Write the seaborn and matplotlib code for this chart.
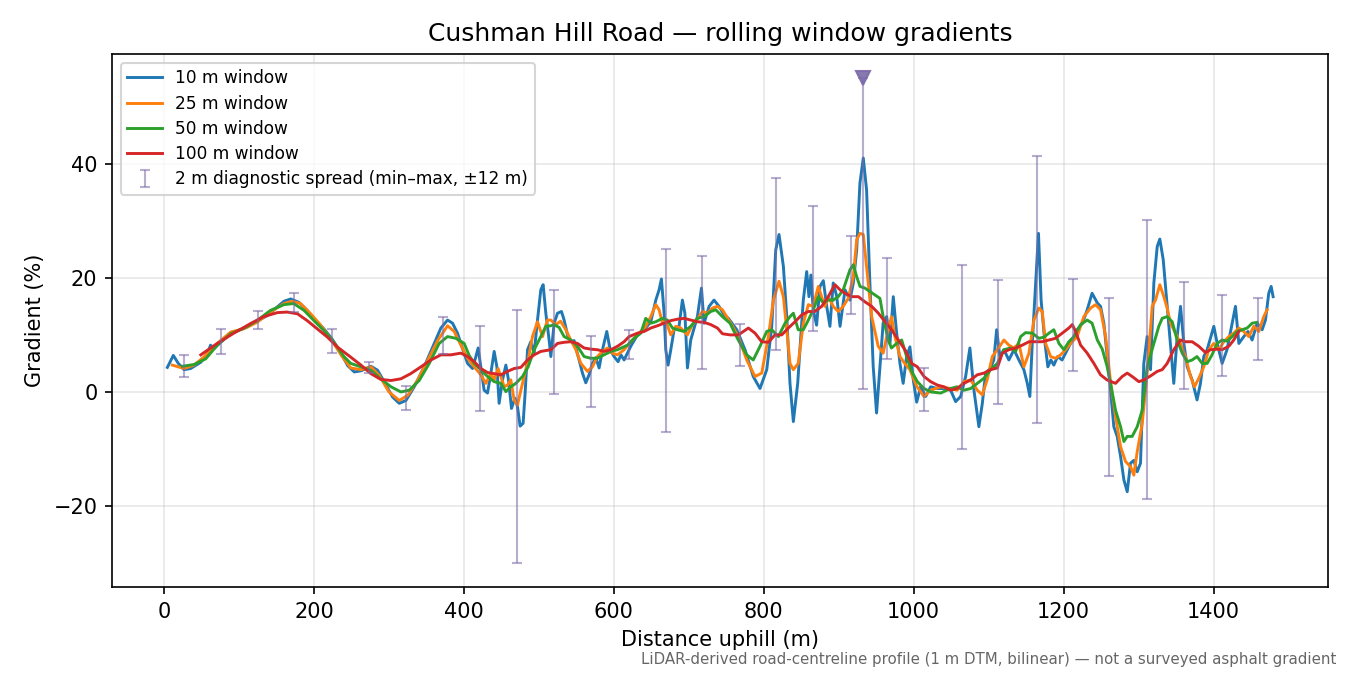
import matplotlib
matplotlib.use("Agg")
import matplotlib.pyplot as plt
import seaborn as sns
import numpy as np
import pandas as pd

# ---------------- data ----------------
w10_x = [4.4, 12.4, 19, 26.7, 35.5, 49, 58, 62, 66.7, 75.5, 86.7, 97.8, 111, 124, 138, 151, 160, 169, 180, 191, 200, 213, 224, 236, 245,
         253.8, 262.7, 276, 284.9, 293.8, 304.9, 313.8, 322.7, 333.8, 347, 360.4, 369.3, 378.2, 384.9, 391.5, 398.2, 404.9, 411.5, 416,
         419, 422.6, 427, 431.5, 436, 440.4, 444, 447, 451.5, 456, 459.5, 463.5, 468, 471.5, 475, 479, 481.7, 484.9, 489.3, 493.7, 498.2,
         502.6, 505.7, 509.3, 513.7, 516, 520.4, 524.9, 530.2, 533.7, 538.2, 542.6, 547, 553.7, 558.2, 562.6, 567, 571.5, 576, 580.4,
         584.9, 590.6, 595.1, 600.4, 605.7, 609.5, 613.7, 622.6, 631.5, 640.4, 649.3, 656, 660.4, 663.5, 667.1, 669.3, 672.4, 676,
         680.4, 687, 691.5, 694.8, 698.2, 702.6, 707.1, 711.5, 716.9, 720.4, 727.1, 733.7, 740.4, 747.1, 752.9, 764, 775, 786, 795,
         804, 810.7, 816, 820.4, 826.2, 830.7, 835, 839.5, 845.3, 849.7, 852.8, 857.3, 860.3, 862.9, 866, 870.5, 875, 879.5, 884,
         888.3, 892.7, 897.3, 901.8, 908.4, 915, 919.5, 924, 928.3, 932.8, 937.2, 941.6, 946, 950.5, 955, 959.3, 964, 968.4, 972.8,
         977.3, 981.7, 986, 990.6, 995, 999.5, 1004, 1009.3, 1016, 1022.7, 1031.6, 1040.4, 1049.3, 1056, 1062.7, 1069.3, 1075,
         1080.4, 1087, 1091.6, 1096, 1102.7, 1106.9, 1110.7, 1115, 1120.4, 1127, 1133.8, 1140.4, 1147, 1151.6, 1155, 1158.2, 1162.7,
         1166.5, 1170, 1174.7, 1179, 1183, 1187, 1192, 1198, 1205, 1211.6, 1218, 1225, 1231.5, 1238, 1245, 1249.3, 1253.7, 1258.2,
         1262.6, 1267, 1271.5, 1276, 1280.4, 1284.9, 1289.3, 1293.7, 1298.2, 1302.6, 1307, 1311.5, 1316, 1320.4, 1324.9, 1328.4,
         1332.9, 1338.2, 1342.6, 1347, 1351.5, 1356, 1360.4, 1364.9, 1371.5, 1378, 1382.6, 1387, 1391.5, 1396, 1400.4, 1404.9,
         1411.5, 1418, 1424.9, 1429.3, 1433.8, 1440.4, 1446, 1451.5, 1458.2, 1464.9, 1469.3, 1473.7, 1476.9, 1479.5]
w10_y = [4.3, 6.4, 5.0, 3.9, 4.1, 5.2, 6.7, 8.2, 7.6, 8.7, 10.1, 10.7, 11.4, 12.4, 13.4, 14.9, 15.9, 16.3, 15.7, 14.3, 12.8, 11.1, 9.3, 6.8, 4.6,
         3.5, 3.7, 4.5, 3.8, 1.75, -0.9, -2.0, -1.5, 0.9, 4.4, 8.5, 11.2, 12.6, 12.05, 10.3, 7.6, 5.0, 4.1, 6.2,
         7.7, 4.4, 0.3, -0.2, 3.3, 7.1, 4.4, -2.0, 2.1, 4.7, 2.1, -2.9, -1.1, -2.6, -6.0, -5.5, -0.2, 7.4, 8.8, 6.8, 12.6,
         17.9, 18.8, 13.8, 9.1, 6.2, 12.05, 13.8, 14.1, 12.6, 10.0, 8.8, 9.0, 5.6, 3.3, 1.6, 3.0, 5.0, 6.0, 4.2,
         7.4, 10.6, 7.4, 6.2, 5.3, 6.5, 5.6, 8.0, 10.0, 10.9, 12.3, 16.1, 17.9, 19.8, 13.8, 7.4, 4.7, 7.4,
         10.9, 11.5, 16.1, 13.8, 4.2, 9.1, 11.2, 13.2, 18.2, 12.05, 15.0, 16.1, 15.0, 13.5, 12.9, 10.9, 7.4, 2.7, 0.6,
         3.9, 11.5, 24.9, 27.6, 22.0, 13.2, 1.5, -5.2, 1.5, 10.3, 16.1, 21.1, 16.7, 20.5, 14.4, 11.7, 18.5, 19.5, 15.0,
         11.5, 19.1, 16.8, 11.5, 17.9, 16.1, 19.1, 24.9, 36.6, 41.0, 35.4, 19.1, 4.5, -3.7, 4.5, 12.1, 13.2, 8.5, 16.7,
         10.3, 5.0, 1.5, 6.2, 7.9, 2.1, -1.8, 0.9, -0.8, 0.9, 0.6, 0.6, 0.3, -1.7, -0.8, 2.7, 7.7,
         0.3, -6.1, -2.0, 3.3, 4.2, 5.6, 10.9, 6.2, 7.4, 5.6, 7.4, 5.6, 3.9, 1.5, -0.8, 8.5, 19.1,
         27.8, 16.1, 9.1, 4.4, 5.6, 4.7, 6.2, 5.6, 7.4, 9.1, 10.9, 12.0, 14.4, 17.3, 15.6, 15.0, 12.05, 6.2,
         0.4, -6.1, -7.8, -11.3, -15.4, -17.5, -12.5, -12.0, -14.0, -12.5, 5.0, 9.7, 3.9, 19.1, 25.5, 26.8,
         23.2, 15.0, 8.0, 1.5, 9.7, 15.0, 8.5, 4.4, 2.1, -1.4, 1.5, 6.2, 7.4, 9.5, 11.5, 8.5,
         5.0, 7.4, 12.05, 15.0, 8.5, 9.7, 10.6, 9.1, 12.05, 10.9, 12.6, 17.3, 18.5, 16.7]

w25_x = [11, 26.7, 40, 53, 71, 89, 107, 124, 142, 160, 171, 182, 195.6, 209, 224, 236, 249, 262.7, 276, 287, 300, 313.8, 325, 338,
         351.6, 365, 378.2, 387, 396, 404.9, 413.8, 422.6, 429.3, 436, 440.4, 445.7, 449.3, 453.8, 458.2, 462.6, 467, 471.5, 476,
         480.4, 485.7, 491.5, 498.2, 504.9, 511.5, 516, 522.6, 529, 536, 542.6, 549.3, 556, 564.9, 571.5, 578, 584.9, 591.5, 598,
         604.9, 613.7, 622.6, 631.5, 642.6, 649.3, 656, 660.4, 664.9, 669, 676, 682.6, 689.3, 698.2, 704.9, 711, 718.2, 725,
         731.5, 738.2, 744.9, 751.5, 756, 766, 777.3, 788.4, 797.3, 806.2, 812.9, 820.4, 826.2, 830.7, 835, 839.5, 846, 852.8,
         859.5, 866, 872.8, 877.2, 881.6, 886, 892.7, 899.4, 906, 912.7, 919.5, 924, 928.4, 932.8, 937.2, 944, 952.7, 959.3, 966,
         970.4, 975, 981.7, 988, 995, 1004, 1013.8, 1022.7, 1036, 1049.3, 1058, 1067, 1076, 1084.9, 1091.6, 1098, 1104.9, 1111.6,
         1120.4, 1127, 1133.8, 1140.4, 1147, 1153.8, 1160.4, 1167, 1171.5, 1176, 1182.7, 1189.3, 1196, 1202.7, 1209.3, 1218, 1227,
         1236, 1242.7, 1249.3, 1256, 1262.6, 1269.3, 1276, 1282.6, 1289.3, 1293.7, 1298.2, 1304.9, 1311.5, 1318.2, 1322.6, 1328.4,
         1333.7, 1338.2, 1342.6, 1349.3, 1356, 1362.6, 1369.3, 1374.6, 1380.4, 1387, 1393.7, 1400.4, 1407, 1413.7, 1420.4, 1427,
         1433.8, 1440.4, 1447, 1453.7, 1460.4, 1467, 1471.5]
w25_y = [4.7, 4.1, 4.7, 6.1, 8.5, 10.5, 11.1, 12.2, 14.0, 15.5, 15.9, 15.5, 13.7, 11.7, 9.0, 6.5, 4.2, 3.9, 4.4, 2.9, 0.0, -1.5, -0.6, 2.0,
         5.5, 9.0, 11.6, 10.6, 8.2, 5.9, 4.4, 3.0, 1.5, 3.3, 2.1, 4.1, 2.7, 0.9, 1.2, 2.1, -1.4, -2.3, 0.3,
         2.7, 5.6, 9.7, 12.3, 9.7, 12.6, 12.6, 11.8, 12.4, 10.9, 9.1, 7.4, 5.0, 3.6, 4.4, 6.2, 7.1, 7.7, 6.8,
         6.5, 7.4, 8.8, 10.0, 11.5, 13.2, 15.3, 14.4, 12.05, 12.6, 10.0, 11.5, 11.2, 10.0, 11.8, 12.7, 14.1, 13.8,
         14.7, 15.0, 14.4, 13.0, 12.05, 9.7, 5.6, 2.7, 3.3, 9.7, 16.1, 19.4, 16.7, 10.9, 5.0, 3.9, 5.0, 12.05,
         15.3, 15.0, 18.5, 16.7, 15.0, 16.7, 15.0, 14.1, 15.0, 16.4, 20.2, 26.7, 27.8, 27.6, 22.0, 13.2, 8.0, 6.8, 10.9,
         13.2, 9.7, 6.2, 5.0, 3.9, 1.0, -0.8, 0.3, 0.9, 0.6, 0.3, 1.8, 2.1, 0.3, -0.5, 2.1, 6.2, 7.4,
         9.1, 8.2, 7.7, 8.5, 4.4, 6.8, 12.6, 14.7, 14.1, 8.5, 6.2, 5.9, 6.5, 7.4, 8.5, 9.7, 13.2,
         14.7, 15.3, 14.4, 9.8, 1.8, -4.3, -9.6, -12.2, -13.1, -14.6, -10.5, -5.5, 3.3, 15.0, 16.1, 18.8,
         16.7, 14.7, 12.05, 10.3, 8.5, 6.2, 2.7, 0.9, 2.4, 4.4, 7.4, 8.5, 7.4, 8.8, 9.7, 10.3,
         11.2, 10.6, 9.7, 11.5, 10.6, 13.2, 14.4]

w50_x = [24.4, 40, 55.6, 71, 89, 107, 124, 142, 160, 173, 186.7, 200, 213, 226.7, 240, 249, 262.7, 276, 289, 302.7, 316, 327, 340.4,
         353.8, 367, 378.2, 389.3, 400.4, 407, 413.8, 422.6, 431.5, 440.4, 449.3, 456, 462.6, 469.3, 478.2, 485.7, 493.7, 502.6,
         509.3, 516, 520.4, 527, 533.7, 542.6, 551.5, 560.4, 569.3, 578, 587, 596, 604.9, 618.2, 627.1, 636, 642.6, 649.3, 656,
         664.9, 671.5, 678.2, 684.9, 693.8, 702.6, 711.5, 720.4, 729.3, 736, 744.9, 755, 766, 777.3, 786, 795, 804, 810.7, 819.5,
         828.4, 835, 839.5, 846, 852.8, 859.5, 866, 872.8, 879.5, 886, 892.7, 899.4, 906, 915, 919.5, 924, 928.4, 935, 941.6,
         948.4, 955, 959.3, 966, 970.4, 977.3, 984, 990.6, 997.3, 1004.9, 1013.8, 1022.7, 1036, 1049.3, 1058, 1067, 1076, 1084.9,
         1093.8, 1102.7, 1111.6, 1120.4, 1129.3, 1136, 1142.7, 1149.3, 1158.2, 1167, 1173.8, 1180.4, 1187, 1193.8, 1200.4, 1207,
         1213.8, 1222.7, 1231.5, 1238, 1245, 1251.6, 1258, 1262.6, 1269.3, 1276, 1280.4, 1284.9, 1291.5, 1298.2, 1304.9, 1311.5,
         1320.4, 1327, 1331.5, 1338.2, 1344.9, 1351.5, 1358.2, 1364.9, 1371.5, 1378, 1384.9, 1391.5, 1398, 1404.9, 1411.5, 1418,
         1424.9, 1431.5, 1438.2, 1444.9, 1451.5, 1458.2]
w50_y = [4.5, 4.8, 5.8, 8.2, 10.2, 11.2, 12.5, 14.3, 15.3, 15.5, 14.3, 12.5, 10.8, 8.7, 6.2, 5.0, 4.4, 3.8, 2.3, 0.9, 0.0, 0.3, 2.0,
         5.0, 8.5, 9.7, 9.4, 8.5, 6.4, 5.0, 3.9, 2.7, 1.8, 1.5, 0.05, 0.9, 1.5, 2.7, 4.4, 7.4, 9.7,
         11.5, 11.6, 11.8, 11.3, 9.7, 9.1, 8.0, 6.2, 5.9, 5.9, 6.5, 7.1, 7.4, 8.2, 9.4, 10.3, 12.9, 12.05, 12.3,
         12.9, 12.6, 11.2, 10.9, 10.6, 11.5, 12.9, 13.2, 14.1, 14.4, 13.2, 12.05, 9.1, 6.5, 5.6, 8.0, 10.6, 10.9, 9.7,
         12.05, 13.2, 13.8, 10.9, 10.9, 12.6, 14.4, 16.7, 15.6, 16.1, 16.1, 16.7, 17.9, 21.4, 22.3, 20.2, 18.5, 18.2, 17.6,
         17.0, 16.4, 13.2, 9.1, 7.7, 8.5, 9.1, 6.2, 3.6, 1.8, 0.6, 0.0, -0.2, 0.6, 0.9, 0.3, 0.6, 1.5,
         2.4, 3.9, 5.0, 7.4, 7.7, 7.1, 9.7, 10.4, 10.3, 9.4, 9.6, 10.3, 10.9, 8.5, 7.4, 8.8,
         9.7, 11.8, 12.6, 12.05, 9.1, 7.5, 4.5, 1.5, -3.2, -6.1, -8.7, -7.8, -7.8, -6.1, -3.2, 4.4,
         8.5, 11.5, 12.9, 13.2, 12.3, 9.1, 6.8, 5.3, 5.6, 6.2, 5.0, 5.0, 6.5, 8.5, 9.1, 8.9,
         9.7, 10.6, 10.9, 11.2, 12.05, 12.2]

w100_x = [49, 71, 93, 115.6, 133, 151, 164, 178, 191, 204, 218, 231, 249, 262.7, 276, 289, 302.7, 316, 329, 342.7, 356, 369.3, 382.6,
          396, 404.9, 413.8, 422.6, 431.5, 440.4, 449.3, 458.2, 467, 476, 484.9, 493.7, 502.6, 516, 524.9, 533.7, 542.6, 551.5,
          560.4, 569.3, 578, 587, 596, 604.9, 613.7, 620.4, 631.5, 640.4, 649.3, 658.2, 667.1, 676, 684.9, 693.8, 702.6, 711.5,
          720.4, 729.3, 738.2, 744.9, 755, 766.2, 779.5, 788.4, 797.3, 806.2, 815, 824, 832.8, 841.7, 850.6, 859.5, 868, 877.3, 886,
          895, 901.8, 908.4, 917.3, 926.2, 935, 944, 952.9, 961.8, 970.6, 979.5, 988.4, 997.3, 1004.9, 1013.8, 1022.7, 1031.6,
          1040.4, 1049.3, 1058, 1067, 1076, 1084.9, 1093.8, 1102.7, 1111.6, 1118.2, 1127, 1136, 1144.9, 1153.8, 1162.7, 1171.5,
          1180.4, 1189.3, 1198.2, 1207, 1211.6, 1216, 1222.7, 1231.5, 1240.4, 1249.3, 1258, 1269.3, 1278.2, 1284.9, 1291.5, 1300.4,
          1307, 1316, 1324.9, 1331.5, 1338.2, 1347, 1356, 1362.6, 1371.5, 1380.4, 1389.3, 1396, 1404.9, 1411.5, 1420.4, 1427, 1433.8]
w100_y = [6.5, 8.5, 10.3, 12.0, 13.2, 13.9, 14.0, 13.7, 12.5, 11.1, 9.6, 7.9, 6.1, 4.7, 3.2, 2.2, 2.0, 2.3, 3.2, 4.4, 5.6, 6.5, 6.5,
          6.8, 6.2, 5.3, 4.1, 3.4, 3.2, 3.0, 3.6, 4.1, 4.3, 5.6, 6.5, 7.1, 7.4, 8.5, 8.7, 8.8, 8.5,
          7.7, 7.5, 7.4, 7.1, 7.4, 8.0, 8.8, 9.7, 10.3, 10.6, 11.2, 11.6, 12.05, 12.5, 12.75, 12.9, 12.6, 12.3,
          12.2, 11.8, 11.2, 10.2, 10.0, 10.0, 11.2, 10.3, 8.8, 8.7, 10.0, 10.0, 11.2, 12.3, 13.5, 14.1, 14.1, 15.0, 16.7,
          18.8, 17.9, 17.3, 16.7, 16.7, 15.8, 15.0, 13.8, 12.3, 10.9, 9.1, 7.4, 5.0, 4.4, 2.7, 1.8, 1.2,
          0.9, 0.3, 0.6, 1.5, 2.1, 3.0, 3.3, 3.9, 4.2, 6.8, 7.4, 7.7, 8.2, 8.8, 8.8, 8.8,
          9.1, 9.4, 10.3, 11.2, 11.8, 10.6, 8.2, 6.8, 5.0, 3.0, 2.1, 1.5, 2.7, 3.3, 2.7, 1.8,
          2.1, 2.8, 3.6, 3.9, 5.0, 7.4, 9.1, 8.8, 8.8, 8.0, 6.9, 7.4, 7.5, 7.4, 8.0, 9.1, 10.6]

# 2 m diagnostic spread (min / max within +-12 m) at sampled stations
spread_x = [26, 76, 125, 174, 224, 274, 323, 372, 422, 471, 520, 570, 620, 669, 718,
            768, 817, 866, 916, 965, 1014, 1064, 1113, 1164, 1213, 1261, 1311, 1361, 1411, 1460]
spread_min = [2.7, 6.7, 11.0, 14.0, 6.9, 3.3, -3.2, 6.6, -3.3, -30.0, -0.35, -2.7, 5.85, -7.0, 4.0,
              4.6, 7.3, 10.6, 13.7, 5.8, -3.3, -10.0, -2.1, -5.4, 3.6, -14.7, -18.8, 0.5, 2.8, 5.6]
spread_max = [6.5, 11.05, 14.1, 17.4, 11.05, 5.3, 1.05, 13.2, 11.6, 14.4, 17.9, 9.8, 10.9, 25.1, 23.75,
              11.9, 37.5, 32.6, 27.3, 23.4, 4.25, 22.3, 19.6, 41.4, 19.8, 16.5, 30.2, 19.3, 17.0, 16.5]

# station of the steepest 10 m reading, whose spread runs off the top (clipped)
peak_x = [933]
peak_min = [0.5]
peak_clip = [55.0]

series_labels = ["10 m window", "25 m window", "50 m window", "100 m window"]
series_colors = ["#1f77b4", "#ff7f0e", "#2ca02c", "#d62728"]

# ---------------- plot ----------------
plt.rcParams["font.family"] = ["DejaVu Sans"]

fig, ax = plt.subplots(figsize=(9, 4.5), dpi=150)
fig.subplots_adjust(left=0.083, right=0.984, top=0.92, bottom=0.13)

for xs, ys, lab, col in zip([w10_x, w25_x, w50_x, w100_x], [w10_y, w25_y, w50_y, w100_y],
                            series_labels, series_colors):
    df = pd.DataFrame({"x": xs, "y": ys})
    sns.lineplot(data=df, x="x", y="y", ax=ax, color=col, lw=1.4, label=lab,
                 sort=False, estimator=None)

spread_c = "#7b6aa8"
sx = np.array(spread_x, dtype=float)
smin = np.array(spread_min)
smax = np.array(spread_max)
mid = (smin + smax) / 2
ax.errorbar(sx, mid, yerr=[mid - smin, smax - mid], fmt="none", ecolor=spread_c,
            alpha=0.55, elinewidth=1.0, capsize=2.5, capthick=1.0,
            label="2 m diagnostic spread (min\u2013max, \u00b112 m)")

px = np.array(peak_x, dtype=float)
pmin = np.array(peak_min)
pmax = np.array(peak_clip)
pmid = (pmin + pmax) / 2
ax.errorbar(px, pmid, yerr=[pmid - pmin, pmax - pmid], fmt="none", ecolor=spread_c,
            alpha=0.55, elinewidth=1.0, capsize=2.5, capthick=1.0)
ax.plot(px, pmax, linestyle="none", marker="v", markersize=7, color=spread_c, alpha=0.9)

ax.grid(True, color="#b0b0b0", alpha=0.3, lw=0.8)
ax.tick_params(axis="both", labelsize=10)

ax.set_xlabel("Distance uphill (m)", fontsize=10)
ax.set_ylabel("Gradient (%)", fontsize=10)
ax.set_title("Cushman Hill Road \u2014 rolling window gradients", fontsize=12)
ax.margins(x=0.05, y=0.05)
ax.set_yticks([-20, 0, 20, 40])

ax.legend(loc="upper left", fontsize=8.2, labelspacing=0.42)

fig.text(0.99, 0.012, "LiDAR-derived road-centreline profile (1 m DTM, bilinear) \u2014 not a surveyed asphalt gradient",
         ha="right", va="bottom", fontsize=7.2, color="#666666")

fig.savefig("out.png", dpi=150)
